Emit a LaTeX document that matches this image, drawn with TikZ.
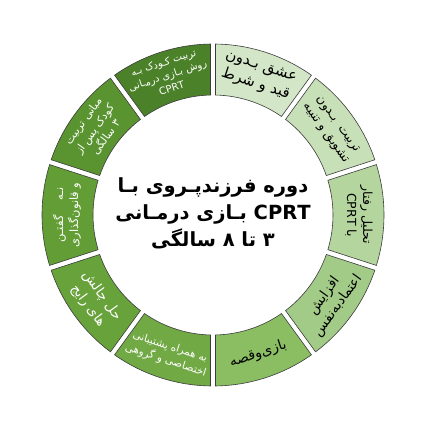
\documentclass[tikz,border=0pt]{standalone}
\usepackage{fontspec}
\newfontfamily\arabicfont[Script=Arabic]{DejaVu Sans}
\TeXXeTstate=1
\newcommand{\fa}[1]{\beginR #1\endR}

\definecolor{segA}{HTML}{D4E6C8}
\definecolor{segB}{HTML}{C8E0B8}
\definecolor{segC}{HTML}{B4D59E}
\definecolor{segD}{HTML}{A3CB88}
\definecolor{segE}{HTML}{8BBE63}
\definecolor{segF}{HTML}{71A944}
\definecolor{segG}{HTML}{68A23B}
\definecolor{segH}{HTML}{629E35}
\definecolor{segI}{HTML}{5A9430}
\definecolor{segJ}{HTML}{4B8229}
\definecolor{partline}{HTML}{3C3C3C}

\begin{document}
\begin{tikzpicture}[part/.style={draw=partline, line width=0.6pt},
  seg text/.style={align=center, inner sep=0pt},
  dark text/.style={seg text, text=black},
  light text/.style={seg text, text=white}]
  \tikzstyle{every node}=[font=\arabicfont]

  \useasboundingbox[fill=white] (-213pt,-211pt) rectangle (213pt,215pt);

  % ring
  \foreach \a/\c in {72/segA,36/segB,0/segC,-36/segD,-72/segE,-108/segF,-144/segG,180/segH,144/segI,108/segJ}
    \filldraw[part, fill=\c] ({\a-17.15}:171pt) arc[start angle=\a-17.15, end angle=\a+17.15, radius=171pt]
      -- ({\a+16.8}:120pt) arc[start angle=\a+16.8, end angle=\a-16.8, radius=120pt] -- cycle;

  % labels
  \node[dark text, rotate=-18, font=\arabicfont\fontsize{15}{19}\selectfont] (love) at (72:146pt) {\fa{عشق بـدون}\\\fa{قید و شرط}};
  \node[dark text, rotate=-54, font=\arabicfont\fontsize{12.5}{15}\selectfont] (reward) at (36:146pt) {\fa{تربیت \ بـدون}\\\fa{تشویق و تنبیه}};
  \node[dark text, rotate=-90, font=\arabicfont\fontsize{12.5}{16}\selectfont] (analysis) at (0:146pt) {\fa{تحلیل رفتار}\\\fa{با CPRT}};
  \node[dark text, rotate=54, font=\arabicfont\fontsize{13.5}{17}\selectfont] (esteem) at (-36:146pt) {\fa{افزایش}\\\fa{اعتمادبه‌نفس}};
  \node[dark text, rotate=18, font=\arabicfont\fontsize{14}{17}\selectfont] (story) at (-72:146pt) {\fa{بازی‌وقصه}};
  \node[light text, rotate=-18, font=\arabicfont\fontsize{10.5}{14}\selectfont] (support) at (-108:146pt) {\fa{به همراه پشتیبانی}\\\fa{اختصاصی و گروهی}};
  \node[light text, rotate=-54, font=\arabicfont\fontsize{13.5}{17}\selectfont] (issues) at (-144:146pt) {\fa{حل چالش}\\\fa{های رایج}};
  \node[light text, rotate=90, font=\arabicfont\fontsize{11.5}{15}\selectfont] (rules) at (180:146pt) {\fa{نـه \quad گفتـن}\\\fa{و قانون‌گذاری}};
  \node[light text, rotate=54, font=\arabicfont\fontsize{11}{14}\selectfont] (basics) at (144:146pt) {\fa{مبانی تربیت}\\\fa{کودک پس از}\\\fa{۳ سالگی}};
  \node[light text, rotate=18, font=\arabicfont\fontsize{10}{13.5}\selectfont] (method) at (108:147pt) {\fa{تربیت کـودک بـه}\\\fa{روش بـازی درمـانی}\\\fa{CPRT}};

  % centre
  \node[align=center, font=\arabicfont\bfseries\fontsize{19.5}{27}\selectfont] (title) at (0,2pt)
    {\fa{دوره فرزندپـروی بـا}\\\fa{CPRT بـازی درمـانی}\\\fa{۳ تا ۸ سالگی}};
\end{tikzpicture}
\end{document}
